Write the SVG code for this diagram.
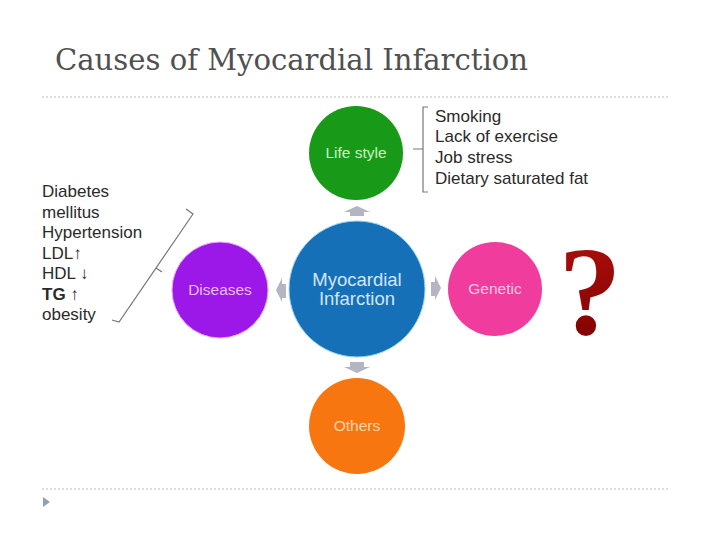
<svg xmlns="http://www.w3.org/2000/svg" width="720" height="540" viewBox="0 0 720 540">
<style>
.sans{font-family:"Liberation Sans",Arial,sans-serif}
.list{font-family:"Liberation Sans",Arial,sans-serif;font-size:17px;fill:#2a2a2a}
.lbl{font-family:"Liberation Sans",Arial,sans-serif;font-size:15.5px;text-anchor:middle}
.dots{stroke:#bbbbbb;stroke-width:1;stroke-dasharray:2 2}
.arrow{fill:#b3b6c2}
.brk{fill:none;stroke:#777;stroke-width:1.2}
</style>
<defs>
<linearGradient id="qg" x1="0" y1="0" x2="0" y2="1">
<stop offset="0" stop-color="#b0100c"/>
<stop offset="1" stop-color="#7a0000"/>
</linearGradient>
</defs>
<rect width="720" height="540" fill="#ffffff"/>
<text x="55" y="70" font-family="'DejaVu Serif','Liberation Serif',serif" font-size="29" fill="#505050" textLength="473" lengthAdjust="spacingAndGlyphs">Causes of Myocardial Infarction</text>
<line class="dots" x1="42" y1="97" x2="668" y2="97"/>
<line class="dots" x1="42" y1="489" x2="668" y2="489"/>
<polygon points="43,497 50,502 43,507" fill="#8fa3b8"/>

<g id="connectors">
<polygon class="arrow" points="357,206 370,212 364,212 364,216 350,216 350,212 344,212"/>
<polygon class="arrow" points="357,373 370,367 364,367 364,362 350,362 350,367 344,367"/>
<polygon class="arrow" points="441,288 435,276 435,282 431,282 431,296 435,296 435,300"/>
<polygon class="arrow" points="276,290 282,278 282,284 286,284 286,298 282,298 282,302"/>
</g>

<g id="center">
<circle cx="357" cy="289" r="68" fill="#1670b8" stroke="#9fd6f0" stroke-width="1"/>
<text class="sans" x="357" y="286" font-size="18.5" fill="#d2e6f8" text-anchor="middle">Myocardial</text>
<text class="sans" x="357" y="305" font-size="18.5" fill="#d2e6f8" text-anchor="middle">Infarction</text>
</g>

<g id="lifestyle">
<circle cx="356" cy="153" r="47" fill="#189a18"/>
<text class="lbl" x="356" y="158" fill="#c8f0c0">Life style</text>
</g>

<g id="diseases">
<circle cx="220" cy="290" r="48" fill="#9c18e8" stroke="#e9a6f7" stroke-width="1"/>
<text class="lbl" x="220" y="295" fill="#ebbcf7">Diseases</text>
</g>

<g id="genetic">
<circle cx="495" cy="289" r="47" fill="#f03c9c"/>
<text class="lbl" x="495" y="294" fill="#f8c8e2">Genetic</text>
</g>

<g id="others">
<circle cx="357" cy="426" r="48" fill="#f7760f"/>
<text class="lbl" x="357" y="431" fill="#ffd6ae">Others</text>
</g>

<g id="lifestyle-list">
<path class="brk" d="M428,107 L423,107 L423,192 L428,192 M423,149 L413,149"/>
<text class="list" x="435" y="122">Smoking</text>
<text class="list" x="435" y="142">Lack of exercise</text>
<text class="list" x="435" y="163">Job stress</text>
<text class="list" x="435" y="184">Dietary saturated fat</text>
</g>

<g id="diseases-list">
<path class="brk" d="M186,209 L193,214 L119,322 L112,320 M156,268 L162,272"/>
<text class="list" x="42" y="197">Diabetes</text>
<text class="list" x="42" y="218">mellitus</text>
<text class="list" x="42" y="238">Hypertension</text>
<text class="list" x="42" y="259">LDL↑</text>
<text class="list" x="42" y="279">HDL ↓</text>
<text class="list" x="42" y="300" font-weight="bold">TG ↑</text>
<text class="list" x="42" y="320">obesity</text>
</g>

<text x="590" y="334" font-family="'Liberation Serif','Times New Roman',serif" font-size="126" font-weight="bold" fill="url(#qg)" text-anchor="middle">?</text>
</svg>
